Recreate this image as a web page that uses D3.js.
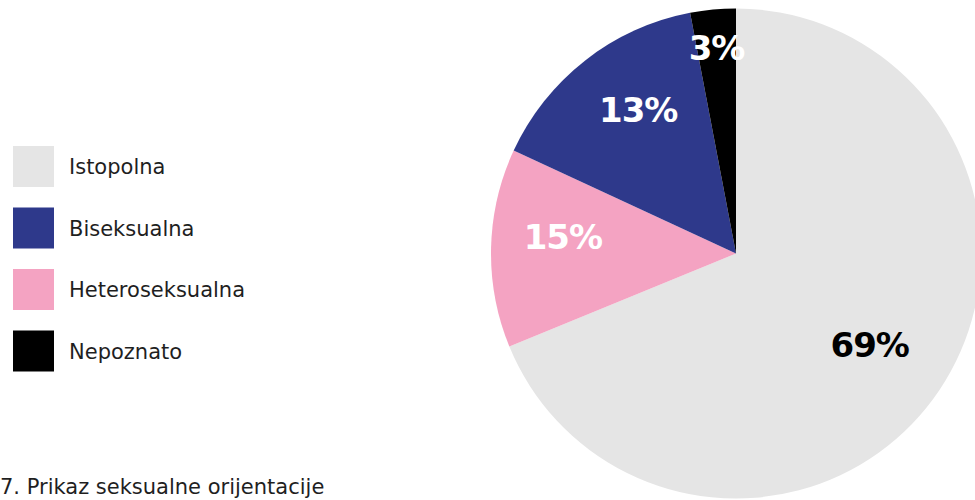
<!DOCTYPE html>
<html>
<head>
<meta charset="utf-8">
<script src="https://cdn.jsdelivr.net/npm/d3@7"></script>
<style>
    html, body { margin: 0; padding: 0; background: #fff; overflow: hidden; }
    svg { display: block; }
</style>
</head>
<body>
<div id="chart"></div>
<script>
// Slices, clockwise from 12 o'clock (sizes as drawn)
const slices = ['Istopolna', 'Heteroseksualna', 'Biseksualna', 'Nepoznato'];
const sliceValues = [68.8, 13.1, 15.1, 3.0];
// Printed labels (placed as the source placed them)
const labelValues = [69, 15, 13, 3];
const labelTexts = ['69%', '15%', '13%', '3%'];
// Legend order
const legendItems = ['Istopolna', 'Biseksualna', 'Heteroseksualna', 'Nepoznato'];
const caption = '7. Prikaz seksualne orijentacije';

const colors = {
    'Istopolna': '#e5e5e5',
    'Biseksualna': '#2e398b',
    'Heteroseksualna': '#f4a3c2',
    'Nepoznato': '#000000'
};

const width = 975;
const height = 500;
const cx = 736;
const cy = 253.5;
const radius = 245;

const svg = d3.select('#chart')
    .append('svg')
    .attr('width', width)
    .attr('height', height);

const pie = d3.pie().sort(null).value(d => d);
const arc = d3.arc().innerRadius(0).outerRadius(radius);

const g = svg.append('g').attr('transform', `translate(${cx},${cy})`);

g.selectAll('path')
    .data(pie(sliceValues))
    .join('path')
    .attr('d', arc)
    .attr('fill', (d, i) => colors[slices[i]]);

// Labels
const labelRadius = v => v < 5 ? radius * 0.845 : v > 50 ? radius * 0.66 : radius * 0.71;

g.selectAll('text.pct')
    .data(pie(labelValues))
    .join('text')
    .attr('class', 'pct')
    .attr('transform', d => {
        const r = labelRadius(d.data);
        const c = d3.arc().innerRadius(r).outerRadius(r).centroid(d);
        return `translate(${c[0]},${c[1]})`;
    })
    .attr('text-anchor', 'middle')
    .attr('dy', '0.36em')
    .attr('font-family', '"DejaVu Sans", sans-serif')
    .attr('font-weight', 'bold')
    .attr('font-size', 34)
    .attr('letter-spacing', -1)
    .attr('fill', (d, i) => slices[i] === 'Istopolna' ? '#000' : '#fff')
    .text((d, i) => labelTexts[i]);

// Legend
const legend = svg.append('g').attr('transform', 'translate(13,146)');

const rows = legend.selectAll('g')
    .data(legendItems)
    .join('g')
    .attr('transform', (d, i) => `translate(0,${i * 61.5})`);

rows.append('rect')
    .attr('width', 41)
    .attr('height', 41)
    .attr('fill', d => colors[d]);

rows.append('text')
    .attr('x', 56)
    .attr('y', 20.5)
    .attr('dy', '0.36em')
    .attr('font-family', '"DejaVu Sans", sans-serif')
    .attr('font-size', 21)
    .attr('fill', '#1f1f1f')
    .text(d => d);

// Caption
svg.append('text')
    .attr('x', 0)
    .attr('y', 494)
    .attr('font-family', '"DejaVu Sans", sans-serif')
    .attr('font-size', 21)
    .attr('fill', '#1f1f1f')
    .text(caption);
</script>
</body>
</html>
